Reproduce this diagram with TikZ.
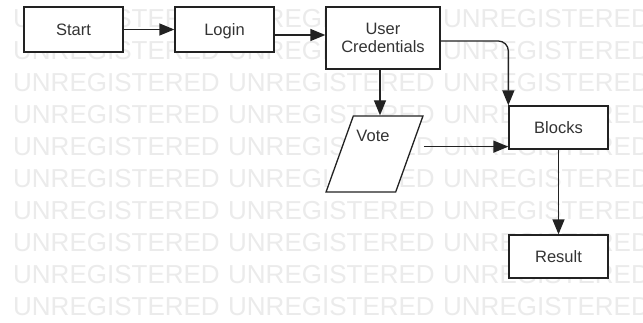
\documentclass[tikz,border=0pt]{standalone}
\usepackage{fontspec}
\setmainfont{Liberation Sans}
\usetikzlibrary{arrows.meta,shapes.geometric}
\definecolor{wmgray}{HTML}{EBEBEB}
\definecolor{txtgray}{HTML}{333333}
\definecolor{linegray}{HTML}{222222}

\begin{document}
\begin{tikzpicture}[x=1pt,y=-1pt,
  box/.style={draw=linegray, line width=1.3pt, fill=white, text=txtgray,
    font=\fontsize{16.5}{18}\selectfont, align=center, inner sep=0pt},
  arr/.style={draw=linegray, line width=1.3pt, -{Triangle[length=15pt,width=12pt]}},
  wm/.style={anchor=base west, inner sep=0pt, text=wmgray, font=\fontsize{26}{26}\selectfont}]
\useasboundingbox (0,0) rectangle (643,322);
\fill [white] (0,0) rectangle (643,322);
% watermark rows
\begin{scope}
\clip (0,0) rectangle (643,322);
\foreach \k in {0,...,9}
  \foreach \i in {0,1,2}
    \node [wm] at ({13+215*\i},{27.3+32*\k}) {UNREGISTERED};
\end{scope}
% boxes
\node [box, minimum width=99, minimum height=45] (start) at (73.5,29.5) {Start};
\node [box, minimum width=99, minimum height=45, text depth=0pt] (login) at (224.5,29.5) {Login};
\node [box, minimum width=114, minimum height=62] (cred) at (383,38) {User\\Credentials};
\node [box, trapezium, trapezium left angle=78.8, trapezium right angle=101.2,
  trapezium stretches=true, inner sep=4pt, minimum width=97, minimum height=76] (vote) at (374.5,154) {\strut};
\node [text=txtgray, font=\fontsize{16.5}{18}\selectfont, inner sep=0pt] (votetext) at (373,136) {Vote};
\node [box, minimum width=99, minimum height=43] (blocks) at (558.5,127.5) {Blocks};
\node [box, minimum width=99, minimum height=43] (result) at (558.5,256.5) {Result};
\coordinate (blocksin) at ([yshift=3pt]blocks.south west);
% arrows
\draw [arr] (start) -- (login);
\draw [arr] ([yshift=-5.5pt]login.east) -- ([yshift=-5.5pt]login.east -| cred.west);
\draw [arr] ([xshift=-3pt]cred.south) -- ([xshift=-3pt]cred.south |- vote.north);
\draw [arr, rounded corners=10pt] ([yshift=-3pt]cred.east) -| (blocks.north west);
\draw [arr] (vote.top right corner |- blocksin) -- (blocksin);
\draw [arr] (blocks) -- (result);
\end{tikzpicture}
\end{document}
